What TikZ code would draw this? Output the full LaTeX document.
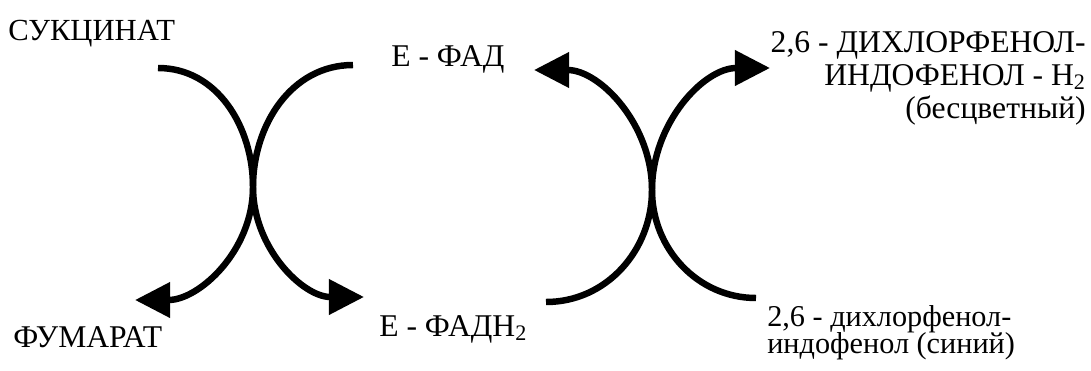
\documentclass[tikz,border=0pt]{standalone}
\usepackage{fontspec}
\setmainfont{Liberation Serif}
\usepackage{tikz}
\usetikzlibrary{arrows.meta,positioning,calc}

\begin{document}
\begin{tikzpicture}[
    x=0.025cm, y=0.025cm,
    chem/.style={inner sep=0pt, font=\fontsize{22.5}{23.5}\selectfont},
    reac/.style={line width=4.6pt},
    reacarrow/.style={reac, -{Triangle[length=0.88cm, width=0.86cm]}}
]
    \useasboundingbox (0,0) rectangle (1091,370);

    % labels
    \node[chem, anchor=base west, font=\fontsize{21.8}{23.5}\selectfont] (suc) at (8,329) {СУКЦИНАТ};
    \node[chem, anchor=base west] (fum) at (13,23) {ФУМАРАТ};
    \node[chem, anchor=base west] (fad) at (391,304) {Е - ФАД};
    \node[chem, anchor=base west] (fadh) at (379,34) {Е - ФАДН\textsubscript{2}};
    \node[chem, anchor=north east, align=right] (dcpiph) at (1086,339)
        {2,6 - ДИХЛОРФЕНОЛ-\\ИНДОФЕНОЛ - Н\textsubscript{2}\\(бесцветный)};
    \node[chem, anchor=north west, align=left, font=\fontsize{21.5}{19.5}\selectfont] (dcpip) at (767,65)
        {2,6 - дихлорфенол-\\индофенол (синий)};

    % curve ends
    \coordinate (sucend) at (158,302);
    \coordinate (fumend) at (135,70);
    \coordinate (fadstart) at (353,305);
    \coordinate (fadhend) at (364,73);
    \coordinate (midA) at (253,183);

    \coordinate (fadhstart) at (546,68);
    \coordinate (fadend) at (534,300);
    \coordinate (dcpipstart) at (756,72);
    \coordinate (dcpiphend) at (770,302);
    \coordinate (midB) at (652,180);

    % succinate dehydrogenase
    \draw[reacarrow] (sucend) to[out=0, in=90] (midA) to[out=-90, in=0] (fumend);
    \draw[reacarrow] (fadstart) to[out=180, in=90] (midA) to[out=-90, in=180] (fadhend);

    % dye reduction
    \draw[reacarrow] (fadhstart) to[out=0, in=-90] (midB) to[out=90, in=0] (fadend);
    \draw[reacarrow] (dcpipstart) to[out=180, in=-90] (midB) to[out=90, in=180] (dcpiphend);
\end{tikzpicture}
\end{document}
